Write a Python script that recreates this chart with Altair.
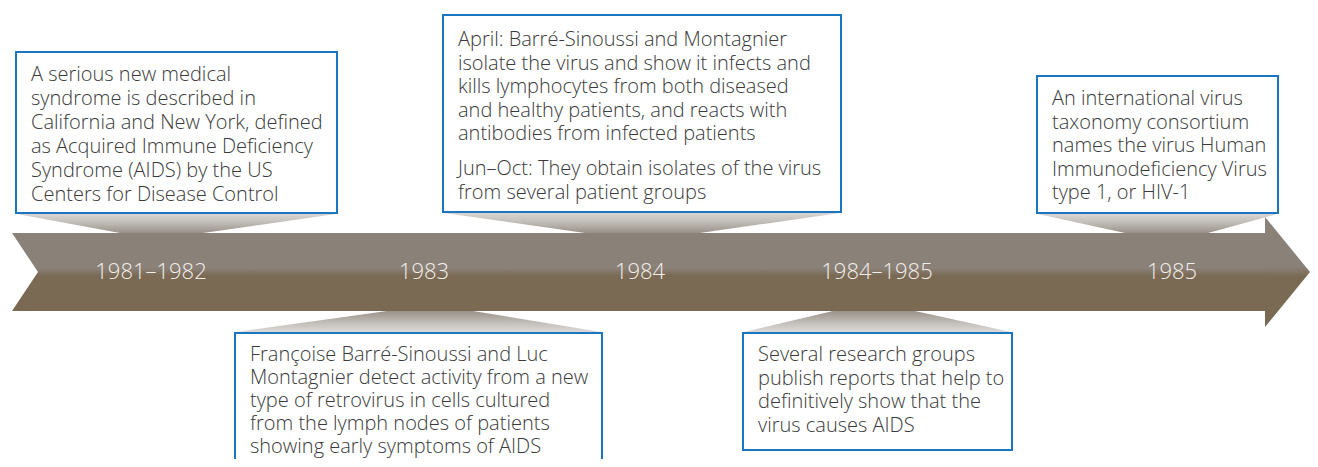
import altair as alt
import pandas as pd

# ---------------- data ----------------
years = ["1981–1982", "1983", "1984", "1984–1985", "1985"]
year_x = [151, 424, 640, 877, 1172]
sides = ["top", "bottom", "top", "bottom", "top"]

paragraphs = [
    [["A serious new medical", "syndrome is described in", "California and New York, defined",
      "as Acquired Immune Deficiency", "Syndrome (AIDS) by the US", "Centers for Disease Control"]],
    [["Françoise Barré-Sinoussi and Luc", "Montagnier detect activity from a new",
      "type of retrovirus in cells cultured", "from the lymph nodes of patients",
      "showing early symptoms of AIDS"]],
    [["April: Barré-Sinoussi and Montagnier", "isolate the virus and show it infects and",
      "kills lymphocytes from both diseased", "and healthy patients, and reacts with",
      "antibodies from infected patients"],
     ["Jun–Oct: They obtain isolates of the virus", "from several patient groups"]],
    [["Several research groups", "publish reports that help to",
      "definitively show that the", "virus causes AIDS"]],
    [["An international virus", "taxonomy consortium", "names the virus Human",
      "Immunodeficiency Virus", "type 1, or HIV-1"]],
]

# ---------------- layout (page pixels) ----------------
W, H = 1302, 451
box_left = [16, 235, 443, 743, 1037]
box_right = [337, 602, 841, 1012, 1278]
box_top = [52, 333, 15, 333, 76]
box_bottom = [213, 480, 212, 450, 213]
neck_left = [120, 387, 585, 833, 1125]
neck_right = [203, 473, 700, 915, 1208]
para_baseline = [[81], [361], [46, 175], [361], [105]]
line_h = [24, 23, 23.5, 23.5, 23.5]

arrow_top, arrow_bottom, arrow_mid = 233, 311, 272
arrow_left, notch_x, body_right = 12, 38, 1266
head_top, head_bottom, head_tip = 217, 327, 1310

xs = alt.Scale(domain=[8, 8 + W], nice=False, zero=False)
ys = alt.Scale(domain=[8, 8 + H], nice=False, zero=False, reverse=True)

FONT = "Open Sans"
BLUE = "#1c75c0"
GREY = "#8a8179"
BROWN = "#7a6953"

# connectors
con_rows = []
for i, s in enumerate(sides):
    if s == "top":
        con_rows.append(dict(id=i, side=s, y=box_bottom[i] + 1, x=box_left[i] + 1, x2=box_right[i] - 1))
        con_rows.append(dict(id=i, side=s, y=arrow_top, x=neck_left[i], x2=neck_right[i]))
    else:
        con_rows.append(dict(id=i, side=s, y=arrow_bottom, x=neck_left[i], x2=neck_right[i]))
        con_rows.append(dict(id=i, side=s, y=box_top[i] - 1, x=box_left[i] + 1, x2=box_right[i] - 1))
con = pd.DataFrame(con_rows)


def grad(stops):
    return alt.Gradient(gradient="linear", x1=0, x2=0, y1=0, y2=1,
                        stops=[alt.GradientStop(color=c, offset=o) for o, c in stops])


def area_layer(df, fill):
    return alt.Chart(df).mark_area(orient="horizontal", color=fill, clip=True).encode(
        y=alt.Y("y:Q", scale=ys, axis=None),
        x=alt.X("x:Q", scale=xs, axis=None),
        x2="x2:Q",
        detail="id:N",
    )


con_top = area_layer(con[con.side == "top"],
                     grad([(0, "#d9d6d3"), (0.4, "#c4c0bb"), (1, "#9a928a")]))
con_bot = area_layer(con[con.side == "bottom"],
                     grad([(0, "#9a928a"), (0.6, "#c4c0bb"), (1, "#dcdad8")]))

arrow_stops = [(0, GREY), (0.45, GREY), (0.55, BROWN), (1, BROWN)]
body = pd.DataFrame(dict(id=[0, 0, 0], y=[arrow_top, arrow_mid, arrow_bottom],
                         x=[arrow_left, notch_x, arrow_left], x2=[body_right] * 3))
head = pd.DataFrame(dict(id=[0, 0, 0], y=[head_top, (head_top + head_bottom) / 2, head_bottom],
                         x=[body_right - 1] * 3, x2=[body_right - 1, head_tip, body_right - 1]))
body_l = area_layer(body, grad(arrow_stops))
head_l = area_layer(head, grad(arrow_stops))

boxes = pd.DataFrame(dict(id=range(5), x=box_left, x2=box_right, y=box_top, y2=box_bottom))
box_l = alt.Chart(boxes).mark_rect(fill="white", stroke=BLUE, strokeWidth=2, clip=True).encode(
    x=alt.X("x:Q", scale=xs, axis=None), x2="x2:Q",
    y=alt.Y("y:Q", scale=ys, axis=None), y2="y2:Q",
)

txt_layers = []
for i, paras in enumerate(paragraphs):
    rows = [dict(x=box_left[i] + 15, y=para_baseline[i][p], t="\n".join(lines))
            for p, lines in enumerate(paras)]
    txt_layers.append(
        alt.Chart(pd.DataFrame(rows)).mark_text(
            align="left", baseline="alphabetic", lineBreak="\n", lineHeight=line_h[i],
            fontSize=20, font=FONT, fontWeight=300, color="#3a3a3a", clip=True
        ).encode(x=alt.X("x:Q", scale=xs, axis=None), y=alt.Y("y:Q", scale=ys, axis=None),
                 text="t:N")
    )

yr = pd.DataFrame(dict(x=year_x, y=[arrow_mid] * 5, t=years))
yr_l = alt.Chart(yr).mark_text(align="center", baseline="middle", fontSize=22, font=FONT,
                               fontWeight=300, color="#f3efea").encode(
    x=alt.X("x:Q", scale=xs, axis=None), y=alt.Y("y:Q", scale=ys, axis=None), text="t:N")

chart = alt.layer(con_top, con_bot, body_l, head_l, box_l, *txt_layers, yr_l).properties(
    width=W, height=H, padding=0, background="white", autosize=alt.AutoSizeParams(type="none")
).configure_view(stroke=None)

chart.save("out.html", embed_options={"renderer": "svg", "actions": False})
